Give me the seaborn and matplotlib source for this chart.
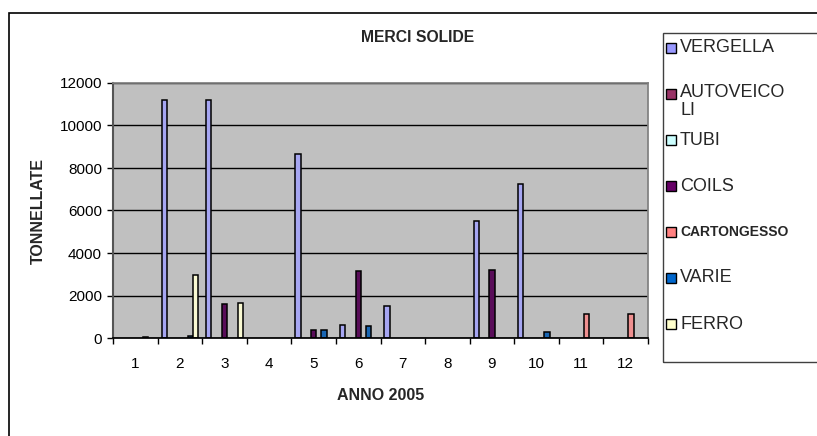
import numpy as np
import pandas as pd
import matplotlib.pyplot as plt
from matplotlib.patches import Rectangle
import seaborn as sns

# data (tonnes per month, 2005)
mesi = ["1", "2", "3", "4", "5", "6", "7", "8", "9", "10", "11", "12"]
merci = ["VERGELLA", "AUTOVEICOLI", "TUBI", "COILS", "CARTONGESSO", "VARIE", "FERRO"]
vergella = [0, 11200, 11220, 0, 8650, 600, 1500, 0, 5520, 7230, 0, 0]
autoveicoli = [0, 0, 0, 0, 0, 0, 0, 0, 0, 0, 0, 0]
tubi = [0, 0, 0, 0, 0, 0, 0, 0, 0, 0, 0, 0]
coils = [0, 0, 1590, 0, 400, 3150, 0, 0, 3200, 0, 0, 0]
cartongesso = [0, 0, 0, 0, 0, 0, 0, 0, 0, 0, 1130, 1130]
varie = [50, 80, 0, 0, 400, 580, 0, 0, 0, 300, 0, 0]
ferro = [0, 2950, 1630, 0, 0, 0, 0, 0, 0, 0, 0, 0]
legend_labels = ["VERGELLA", "AUTOVEICO\nLI", "TUBI", "COILS", "CARTONGESSO", "VARIE", "FERRO"]

colori = ["#9999FF", "#993366", "#CCFFFF", "#660066", "#FF8080", "#0066CC", "#FFFFCC"]

serie = [vergella, autoveicoli, tubi, coils, cartongesso, varie, ferro]
rows = []
for nome, valori in zip(merci, serie):
    for m, v in zip(mesi, valori):
        rows.append({"mese": m, "merce": nome, "t": v if v > 0 else np.nan})
df = pd.DataFrame(rows)

sns.set_theme(style="white")
plt.rcParams["font.family"] = ["Liberation Sans", "DejaVu Sans"]

W, H = 817, 436
fig = plt.figure(figsize=(W / 100, H / 100), dpi=100)
ax = fig.add_axes([113 / W, 1 - 338 / H, (648 - 113) / W, (338 - 83) / H])

sns.barplot(data=df, x="mese", y="t", hue="merce", order=mesi, hue_order=merci,
            palette=dict(zip(merci, colori)), width=7 / 8.5, errorbar=None,
            edgecolor="black", linewidth=1.1, legend=False, ax=ax)

ax.set_facecolor("#C0C0C0")
ax.set_xlim(-0.5, 11.5)
ax.set_ylim(0, 12000)
ax.set_yticks(range(0, 12001, 2000))
ax.yaxis.grid(True, color="black", linewidth=1.0)
ax.set_axisbelow(True)
ax.set_xticks(range(12))
ax.set_xticklabels(mesi)
ax.set_xticks(np.arange(-0.5, 12, 1), minor=True)
ax.tick_params(axis="x", which="major", length=0, pad=14, labelsize=11, colors="black")
ax.tick_params(axis="x", which="minor", length=4, width=1, direction="out", color="black", bottom=True)
ax.tick_params(axis="y", length=4, width=1, direction="out", labelsize=11, colors="black", left=True, pad=4)
for s in ["top", "right"]:
    ax.spines[s].set_color("#808080")
ax.spines["left"].set_color("#555555")
ax.spines["left"].set_linewidth(1.5)
ax.spines["bottom"].set_color("black")

ax.set_xlabel("ANNO 2005", fontsize=11.5, fontweight="bold", labelpad=12)
ax.set_ylabel("TONNELLATE", fontsize=11.5, fontweight="bold", labelpad=10)
fig.text(418 / W, 1 - 37 / H, "MERCI SOLIDE", ha="center", va="center",
         fontsize=11.3, fontweight="bold")

# outer chart border and legend frame
fig.patches.append(Rectangle((9 / W, -0.1), 1.2, 1 - 13 / H + 0.1, transform=fig.transFigure,
                             fill=False, edgecolor="black", linewidth=1.2, clip_on=False))
fig.patches.append(Rectangle((663 / W, 1 - 362 / H), 1.0, (362 - 33) / H, transform=fig.transFigure,
                             fill=False, edgecolor="#404040", linewidth=1.0, clip_on=False))

for i, (lab, col) in enumerate(zip(legend_labels, colori)):
    yc = 48 + 46 * i
    fig.patches.append(Rectangle((666 / W, 1 - (yc + 5) / H), 10 / W, 10 / H,
                                 transform=fig.transFigure, facecolor=col,
                                 edgecolor="black", linewidth=1.0))
    if lab == "CARTONGESSO":
        fig.text(680 / W, 1 - yc / H, lab, ha="left", va="center", fontsize=10, fontweight="bold")
    elif "\n" in lab:
        fig.text(680 / W, 1 - (yc - 10) / H, lab, ha="left", va="top", fontsize=13, linespacing=1.1)
    else:
        fig.text(680 / W, 1 - yc / H, lab, ha="left", va="center", fontsize=13)

fig.savefig("out.png", dpi=100)
